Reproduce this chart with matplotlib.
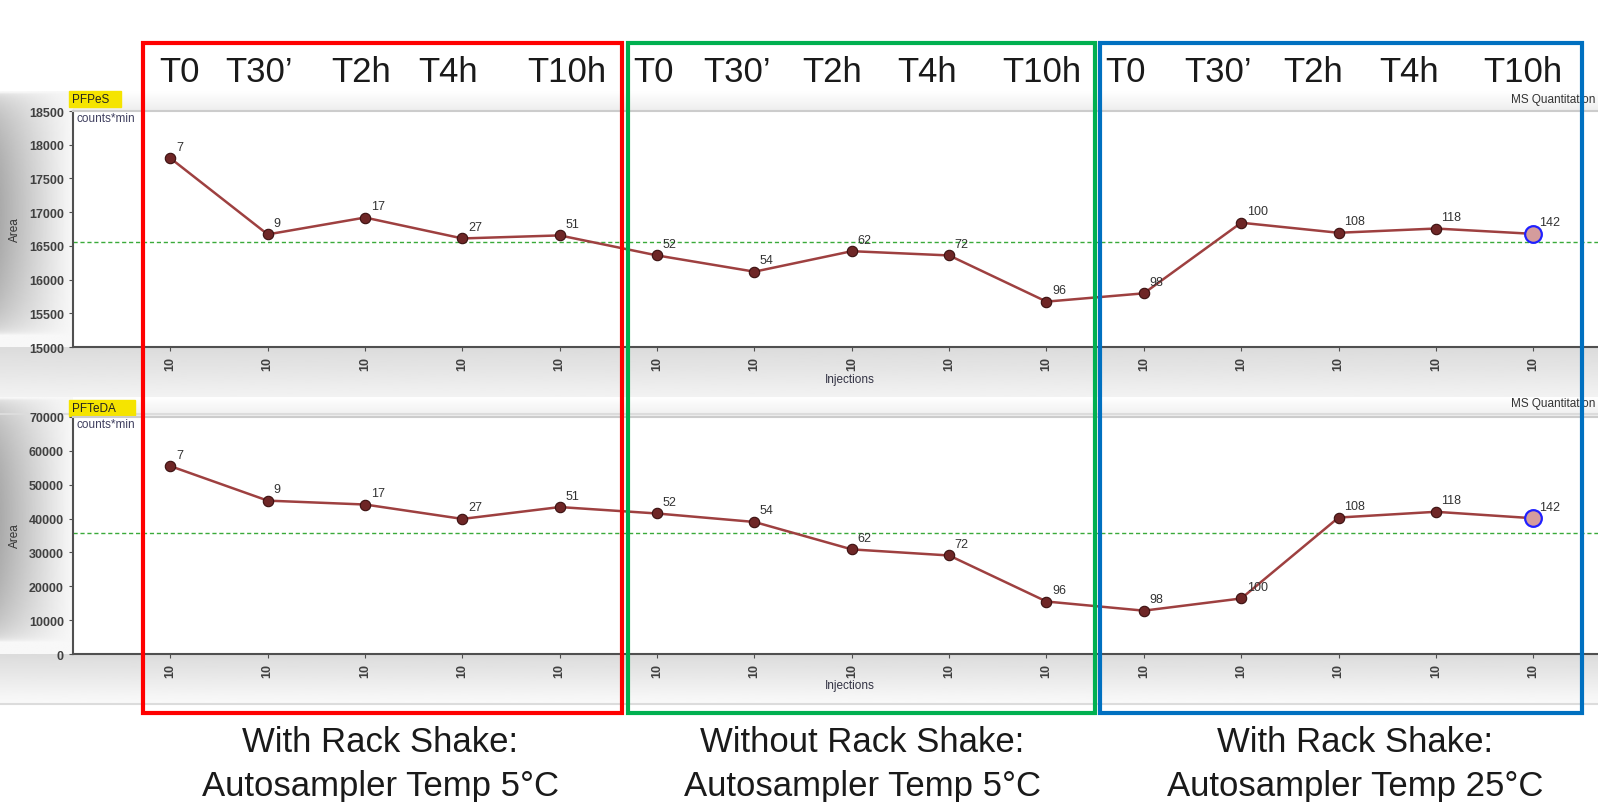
import numpy as np
import matplotlib
matplotlib.use("Agg")
import matplotlib.pyplot as plt
from matplotlib.patches import Rectangle

plt.rcParams['font.family'] = ['Liberation Sans', 'DejaVu Sans']

# data
sample_ids = ['7', '9', '17', '27', '51', '52', '54', '62', '72', '96', '98', '100', '108', '118', '142']
pfpes = [17800, 16670, 16920, 16610, 16655, 16358, 16117, 16421, 16358, 15673, 15796, 16843, 16694, 16757, 16678]
pfteda = [55500, 45300, 44150, 39900, 43400, 41500, 39000, 30900, 29100, 15500, 12800, 16400, 40300, 42000, 40100]
inj_labels = ['10'] * 15
time_labels = ['T0', 'T30\u2019', 'T2h', 'T4h', 'T10h'] * 3
groups = [('With Rack Shake:', 'Autosampler Temp 5\u00b0C'),
          ('Without Rack Shake:', 'Autosampler Temp 5\u00b0C'),
          ('With Rack Shake:', 'Autosampler Temp 25\u00b0C')]

# layout (pixels)
W, H = 1598, 803
time_x = [179, 259, 361, 448, 567, 653, 737, 832, 927, 1042, 1125, 1218, 1313, 1409, 1523]
group_x = [380, 862, 1355]
boxes = [(143, 622, '#ff0000'), (628, 1095, '#00b050'), (1100, 1582, '#0070c0')]
box_top, box_bot = 44, 714

fig = plt.figure(figsize=(W / 100, H / 100), dpi=100)
fig.patch.set_facecolor('white')

# background gradients
bg = fig.add_axes([0, 0, 1, 1], zorder=-10)
bg.set_xlim(0, W)
bg.set_ylim(H, 0)
bg.axis('off')
gray = plt.get_cmap('gray')


def vgrad(x0, x1, y0, y1, c0, c1):
    g = np.linspace(c0, c1, 64).reshape(-1, 1)
    bg.imshow(g, extent=(x0, x1, y1, y0), aspect='auto', cmap=gray, vmin=0, vmax=1, interpolation='bilinear')


def side(y0, y1):
    xx = np.linspace(0, 1, 60)
    yy = np.linspace(0, 1, 120)
    X, Y = np.meshgrid(xx, yy)
    g = 0.97 - 0.30 * (1 - X) ** 1.1 * np.sin(np.pi * np.clip(Y * 1.05, 0, 1)) ** 0.35
    bg.imshow(g, extent=(0, 73, y1, y0), aspect='auto', cmap=gray, vmin=0, vmax=1, interpolation='bilinear')


panels = [(92, 112, 348, 415), (398, 418, 655, 705)]
for top, atop, abot, bbot in panels:
    vgrad(0, W, top, atop, 1.0, 0.93)
    side(top, abot)
    vgrad(0, W, abot, bbot, 0.86, 0.98)
    bg.plot([0, W], [bbot, bbot], color='#dcdcdc', lw=1.5)

# label boxes
bg.add_patch(Rectangle((69, 92), 52, 16, color='#f5e400', zorder=3))
bg.add_patch(Rectangle((69, 401), 66, 16, color='#f5e400', zorder=3))
bg.text(72, 100, 'PFPeS', fontsize=8.5, va='center', ha='left', color='#222222', zorder=4)
bg.text(72, 409, 'PFTeDA', fontsize=8.5, va='center', ha='left', color='#222222', zorder=4)
bg.text(1595, 100, 'MS Quantitation', fontsize=8.5, va='center', ha='right', color='#333333')
bg.text(1595, 404, 'MS Quantitation', fontsize=8.5, va='center', ha='right', color='#333333')
for yy in (244, 533):
    bg.text(1588, yy, 'M', fontsize=8.5, va='center', ha='left', color='#333333')
for yy in (380, 686):
    bg.text(850, yy, 'Injections', fontsize=8.5, va='center', ha='center', color='#333344')
for yy in (230, 536):
    bg.text(15, yy, 'Area', fontsize=8.5, va='center', ha='center', rotation=90, color='#333333')


def panel(rect, vals, ylim, step):
    ax = fig.add_axes(rect)
    ax.set_facecolor('white')
    x = np.arange(len(vals))
    ax.plot(x, vals, color='#9e4040', lw=1.8, zorder=2)
    ax.plot(x[:-1], vals[:-1], 'o', ms=7.5, mfc='#6e2626', mec='#3a1010', mew=0.8, zorder=3)
    ax.plot(x[-1], vals[-1], 'o', ms=12, mfc='#d49c9c', mec='#2020ff', mew=1.6, zorder=3)
    for xi, v, s in zip(x, vals, sample_ids):
        ax.annotate(s, (xi, v), xytext=(4, 4), textcoords='offset points',
                    fontsize=9, color='#333333', ha='left', va='bottom')
    ax.axhline(np.mean(vals), color='#3aaa3a', lw=1, ls=(0, (3, 2)), zorder=1)
    ax.set_xlim(-1, 15.6)
    ax.set_ylim(*ylim)
    ax.set_yticks(np.arange(ylim[0], ylim[1] + 1, step))
    ax.set_xticks(x)
    ax.set_xticklabels(inj_labels, rotation=90)
    ax.tick_params(axis='both', labelsize=9, labelcolor='#404040', color='#505050', length=3)
    for lab in ax.get_yticklabels() + ax.get_xticklabels():
        lab.set_fontweight('bold')
    for sp in ('left', 'bottom'):
        ax.spines[sp].set_color('#505050')
        ax.spines[sp].set_linewidth(1.5)
    ax.spines['top'].set_color('#cccccc')
    ax.spines['top'].set_linewidth(1.5)
    ax.spines['right'].set_visible(False)
    ax.text(0.002, 0.995, 'counts*min', transform=ax.transAxes,
            fontsize=8.5, color='#404060', va='top', ha='left')
    return ax


def px_rect(x0, y0, x1, y1):
    return [x0 / W, 1 - y1 / H, (x1 - x0) / W, (y1 - y0) / H]


ax1 = panel(px_rect(73, 112, 1689, 348), pfpes, (15000, 18500), 500)
ax2 = panel(px_rect(73, 418, 1689, 655), pfteda, (0, 70000), 10000)

# overlay: coloured boxes and big labels
ov = fig.add_axes([0, 0, 1, 1], zorder=10)
ov.set_xlim(0, W)
ov.set_ylim(H, 0)
ov.axis('off')
ov.patch.set_alpha(0)
for x0, x1, c in boxes:
    ov.add_patch(Rectangle((x0, box_top), x1 - x0, box_bot - box_top, fill=False, ec=c, lw=3))

big = ['Liberation Sans Narrow', 'Liberation Sans', 'DejaVu Sans']
for tx, lab in zip(time_x, time_labels):
    ov.text(tx, 73, lab, fontsize=25, family=big, ha='center', va='center', color='#1a1a1a')
for gx, (l1, l2) in zip(group_x, groups):
    ov.text(gx, 743, l1, fontsize=25, family=big, ha='center', va='center', color='#1a1a1a')
    ov.text(gx, 796, l2, fontsize=25, family=big, ha='center', va='baseline', color='#1a1a1a')

fig.savefig('out.png', dpi=100)
